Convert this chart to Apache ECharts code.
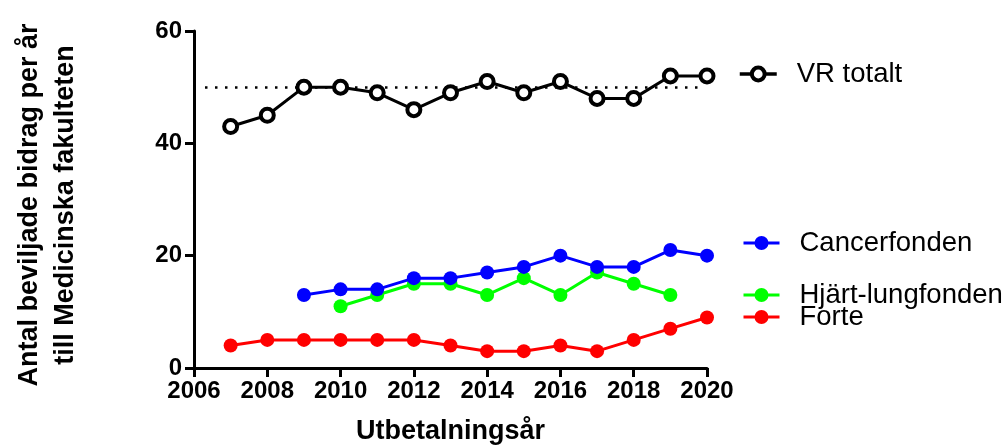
<!DOCTYPE html>
<html>
<head>
<meta charset="utf-8">
<script src="https://cdn.jsdelivr.net/npm/echarts@6/dist/echarts.min.js"></script>
<style>html,body{margin:0;padding:0;background:#fff}#c{width:1003px;height:448px}</style>
</head>
<body>
<div id="c"></div>
<script>
var vrYears = [2007,2008,2009,2010,2011,2012,2013,2014,2015,2016,2017,2018,2019,2020];
var vrTotalt = [43,45,50,50,49,46,49,51,49,51,48,48,52,52];
var cancerYears = [2009,2010,2011,2012,2013,2014,2015,2016,2017,2018,2019,2020];
var cancerfonden = [13,14,14,16,16,17,18,20,18,18,21,20];
var hjartYears = [2010,2011,2012,2013,2014,2015,2016,2017,2018,2019];
var hjartLungfonden = [11,13,15,15,13,16,13,17,15,13];
var forteYears = [2007,2008,2009,2010,2011,2012,2013,2014,2015,2016,2017,2018,2019,2020];
var forte = [4,5,5,5,5,5,4,3,3,4,3,5,7,9];
var refLevel = 50;
var refFrom = 2006.3, refTo = 2019.8;

function pairs(xs, ys){ return xs.map(function(x,i){ return [x, ys[i]]; }); }

var FONT = '"Liberation Sans", Arial, sans-serif';
var chart = echarts.init(document.getElementById('c'), null, {renderer:'canvas'});

function leg(name, left, top, w, h, lw, bw){
  return {
    data:[name], left:left, top:top, orient:'vertical',
    itemWidth:w, itemHeight:h, padding:0,
    lineStyle:{width:lw},
    itemStyle:{borderWidth:bw},
    textStyle:{fontFamily:FONT, fontSize:27.5, color:'#000', padding:[0,0,0,15]},
    selectedMode:false
  };
}

chart.setOption({
  animation:false,
  grid:{left:194, right:296, top:31, bottom:80, containLabel:false, outerBoundsMode:'none'},
  legend:[
    leg('VR totalt',738,60,37,16,3.5,4),
    leg('Cancerfonden',742,229,36,17.5,3,0),
    leg('Hjärt-lungfonden',742,281,36,17.5,3,0),
    leg('Forte',742,303,36,17.5,3,0)
  ],
  xAxis:{
    type:'value', min:2006, max:2020, interval:2,
    name:'Utbetalningsår', nameLocation:'middle', nameGap:50,
    nameTextStyle:{fontFamily:FONT, fontSize:27, fontWeight:'bold', color:'#000'},
    axisLine:{lineStyle:{color:'#000', width:3}},
    axisTick:{length:9, lineStyle:{color:'#000', width:3}},
    axisLabel:{fontFamily:FONT, fontSize:24, fontWeight:'bold', color:'#000', margin:11,
      formatter:function(v){ return String(v); }},
    splitLine:{show:false}
  },
  yAxis:{
    type:'value', min:0, max:60, interval:20,
    name:'Antal beviljade bidrag per år\ntill Medicinska fakulteten', nameLocation:'middle', nameGap:110, nameRotate:90,
    nameTextStyle:{fontFamily:FONT, fontSize:27, fontWeight:'bold', color:'#000', lineHeight:36, padding:[0,11,0,0]},
    axisLine:{show:true, lineStyle:{color:'#000', width:3}},
    axisTick:{show:true, length:9, lineStyle:{color:'#000', width:3}},
    axisLabel:{fontFamily:FONT, fontSize:24, fontWeight:'bold', color:'#000', margin:12},
    splitLine:{show:false}
  },
  series:[
    {
      name:'VR totalt', type:'line', data:pairs(vrYears, vrTotalt), z:5,
      symbol:'circle', symbolSize:13, showAllSymbol:true,
      lineStyle:{color:'#000', width:3},
      itemStyle:{color:'#fff', borderColor:'#000', borderWidth:4},
      markLine:{
        silent:true, symbol:'none', label:{show:false},
        lineStyle:{color:'#000', width:2.5, type:[2.5,7.5]},
        data:[[{coord:[refFrom, refLevel]},{coord:[refTo, refLevel]}]]
      }
    },
    {
      name:'Hjärt-lungfonden', type:'line', data:pairs(hjartYears, hjartLungfonden), z:2,
      symbol:'circle', symbolSize:14,
      lineStyle:{color:'#00ff00', width:3},
      itemStyle:{color:'#00ff00'}
    },
    {
      name:'Forte', type:'line', data:pairs(forteYears, forte), z:3,
      symbol:'circle', symbolSize:14,
      lineStyle:{color:'#ff0000', width:3},
      itemStyle:{color:'#ff0000'}
    },
    {
      name:'Cancerfonden', type:'line', data:pairs(cancerYears, cancerfonden), z:4,
      symbol:'circle', symbolSize:14,
      lineStyle:{color:'#0000ff', width:3},
      itemStyle:{color:'#0000ff'}
    }
  ]
});
</script>
</body>
</html>
